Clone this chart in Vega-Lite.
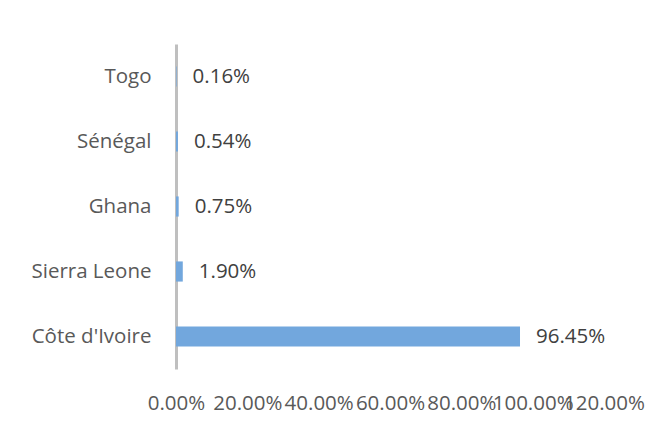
{
  "$schema": "https://vega.github.io/schema/vega-lite/v6.json",
  "autosize": "none",
  "width": 428,
  "height": 325,
  "padding": {"left": 176, "top": 44, "right": 59, "bottom": 77},
  "background": "white",
  "data": {
    "values": [
      {"country": "Togo", "share": 0.0016},
      {"country": "Sénégal", "share": 0.0054},
      {"country": "Ghana", "share": 0.0075},
      {"country": "Sierra Leone", "share": 0.019},
      {"country": "Côte d'Ivoire", "share": 0.9645}
    ]
  },
  "encoding": {
    "y": {
      "field": "country",
      "type": "nominal",
      "sort": null,
      "scale": {"paddingInner": 0.69, "paddingOuter": 0.345},
      "axis": {
        "title": null,
        "ticks": false,
        "domainColor": "#bfbfbf",
        "domainWidth": 3,
        "labelPadding": 25,
        "labelFont": "Open Sans",
        "labelFontSize": 20.5,
        "labelColor": "#595959"
      }
    },
    "x": {
      "field": "share",
      "type": "quantitative",
      "scale": {"domain": [0, 1.2], "nice": false},
      "axis": {
        "title": null,
        "format": ".2%",
        "values": [0, 0.2, 0.4, 0.6, 0.8, 1.0, 1.2],
        "grid": false,
        "domain": false,
        "ticks": false,
        "labelPadding": 24,
        "labelFont": "Open Sans",
        "labelFontSize": 20.5,
        "labelColor": "#595959",
        "labelOverlap": false,
        "labelFlush": false
      }
    }
  },
  "layer": [
    {"mark": {"type": "bar", "color": "#72a7dd"}},
    {
      "mark": {"type": "text", "align": "left", "dx": 16, "font": "Open Sans", "fontSize": 20.5, "color": "#404040"},
      "encoding": {"text": {"field": "share", "type": "quantitative", "format": ".2%"}}
    }
  ],
  "config": {"view": {"stroke": null}}
}
